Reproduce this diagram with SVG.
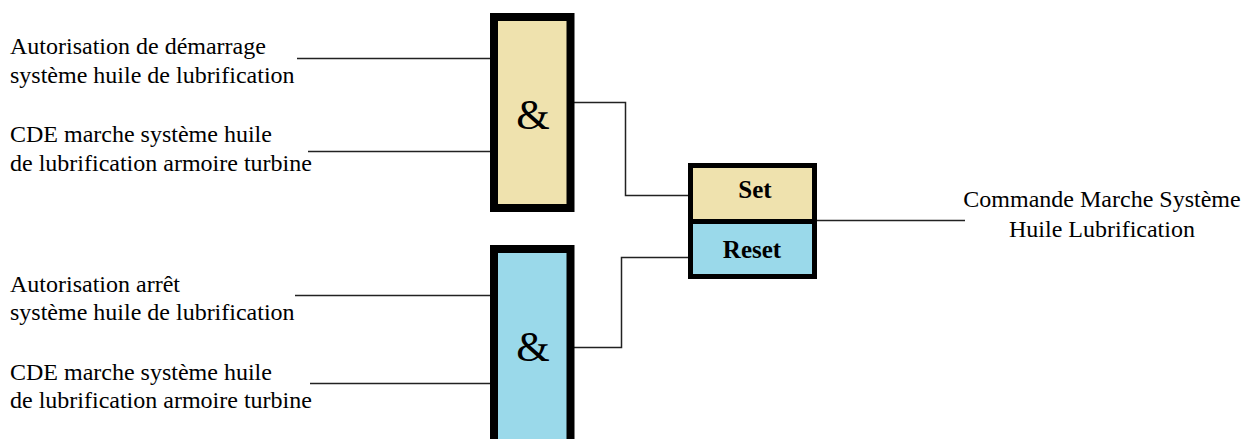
<svg xmlns="http://www.w3.org/2000/svg" width="1254" height="439" viewBox="0 0 1254 439">
<style>
.t{font-family:"Liberation Serif","Times New Roman",serif;font-size:24px;fill:#000}
.c{fill:none;stroke:#222;stroke-width:1.5}
.gate{stroke:#000;stroke-width:8}
.sr{stroke:#000;stroke-width:5}
.amp{font-family:"Liberation Serif","Times New Roman",serif;font-size:43px;text-anchor:middle;fill:#000}
.lbl{font-family:"Liberation Serif","Times New Roman",serif;font-size:25px;font-weight:bold;text-anchor:middle;fill:#000}
</style>
<rect width="1254" height="439" fill="#fff"/>
<g id="connectors">
<line class="c" x1="297" y1="58.5" x2="490" y2="58.5"/>
<line class="c" x1="308" y1="151.5" x2="490" y2="151.5"/>
<line class="c" x1="295" y1="295.5" x2="490" y2="295.5"/>
<line class="c" x1="310" y1="383.5" x2="490" y2="383.5"/>
<polyline class="c" points="574,102.5 625.5,102.5 625.5,195.5 688,195.5"/>
<polyline class="c" points="574,347.5 621.5,347.5 621.5,257.5 688,257.5"/>
<line class="c" x1="817" y1="220.5" x2="965" y2="220.5"/>
</g>
<g id="inputs-top">
<text class="t" x="10" y="54">Autorisation de démarrage</text>
<text class="t" x="10" y="83">système huile de lubrification</text>
<text class="t" x="10" y="142">CDE marche système huile</text>
<text class="t" x="10" y="171">de lubrification armoire turbine</text>
</g>
<g id="inputs-bottom">
<text class="t" x="10" y="292">Autorisation arrêt</text>
<text class="t" x="10" y="320">système huile de lubrification</text>
<text class="t" x="10" y="380">CDE marche système huile</text>
<text class="t" x="10" y="408">de lubrification armoire turbine</text>
</g>
<g id="and-top">
<rect class="gate" x="494" y="17" width="76.5" height="191" fill="#EFE2AE"/>
<text class="amp" x="533" y="129">&amp;</text>
</g>
<g id="and-bottom">
<rect class="gate" x="494" y="249" width="76.5" height="200" fill="#9AD9EA"/>
<text class="amp" x="533" y="361">&amp;</text>
</g>
<g id="sr-latch">
<rect class="sr" x="690.5" y="165.5" width="124" height="56" fill="#EFE2AE"/>
<rect class="sr" x="690.5" y="221.5" width="124" height="55" fill="#9AD9EA"/>
<text class="lbl" x="755" y="198">Set</text>
<text class="lbl" x="752" y="258">Reset</text>
</g>
<g id="output">
<text class="t" x="1102" y="207" text-anchor="middle">Commande Marche Système</text>
<text class="t" x="1102" y="237" text-anchor="middle">Huile Lubrification</text>
</g>
</svg>
